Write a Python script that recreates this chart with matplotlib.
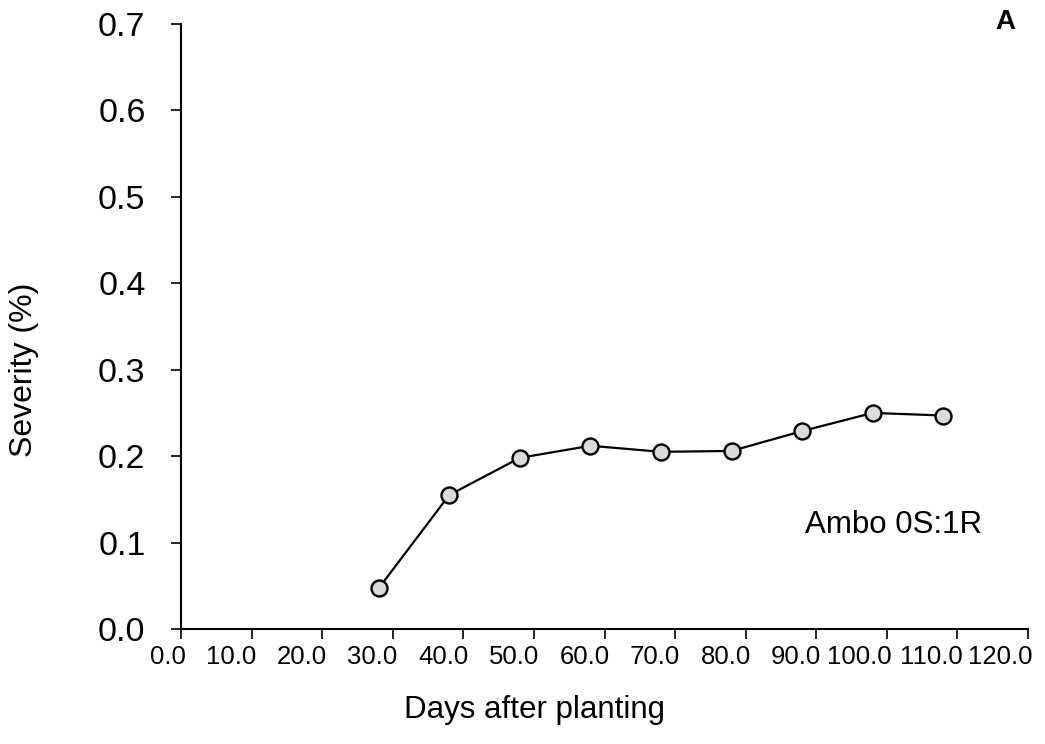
import numpy as np
import matplotlib.pyplot as plt
import matplotlib.transforms as mtransforms

plt.rcParams['font.family'] = ['Liberation Sans', 'DejaVu Sans']

# severity readings for Ambo 0S:1R
days = [28, 38, 48, 58, 68, 78, 88, 98, 108]
severity = [0.047, 0.155, 0.198, 0.212, 0.205, 0.206, 0.229, 0.250, 0.247]

x_ticks = np.arange(0, 121, 10)
x_ticklabels = [f'{v:.1f}' for v in x_ticks]
y_ticks = np.arange(0, 0.71, 0.1)
y_ticklabels = [f'{v:.1f}' for v in y_ticks]

fig = plt.figure(figsize=(10.45, 7.44), dpi=100)
ax = fig.add_axes([181 / 1045, 1 - 629 / 744, 847 / 1045, 605 / 744])

ax.plot(days, severity, color='black', lw=1.6, marker='o', ms=11.5,
        mfc='#dadada', mec='black', mew=1.7, zorder=3)

ax.set_xlim(0, 120)
ax.set_ylim(0, 0.7)
ax.set_xticks(x_ticks)
ax.set_xticklabels(x_ticklabels, fontsize=18.5, ha='right')
ax.set_yticks(y_ticks)
ax.set_yticklabels(y_ticklabels, fontsize=24.5)

for side in ['top', 'right']:
    ax.spines[side].set_visible(False)
for side in ['left', 'bottom']:
    ax.spines[side].set_linewidth(1.5)

ax.tick_params(axis='x', direction='out', length=7.5, width=1.2, pad=4)
ax.tick_params(axis='y', direction='out', length=7.5, width=1.2, pad=18)

# x tick labels sit just left of their ticks
shift = mtransforms.ScaledTranslation(5 / 100, 0, fig.dpi_scale_trans)
for lab in ax.get_xticklabels():
    lab.set_transform(lab.get_transform() + shift)

ax.set_xlabel('Days after planting', fontsize=22.5, va='center')
ax.xaxis.set_label_coords(353 / 847, -81 / 605)
ax.set_ylabel('Severity (%)', fontsize=23, va='center')
ax.yaxis.set_label_coords(-157 / 847, 259 / 605)

ax.text(88.4, 0.12, 'Ambo 0S:1R', fontsize=22.5, ha='left', va='center')
fig.text(1005 / 1045, 1 - 22 / 744, 'A', fontsize=20, fontweight='bold',
         ha='center', va='center')

fig.savefig('out.png', dpi=100)
